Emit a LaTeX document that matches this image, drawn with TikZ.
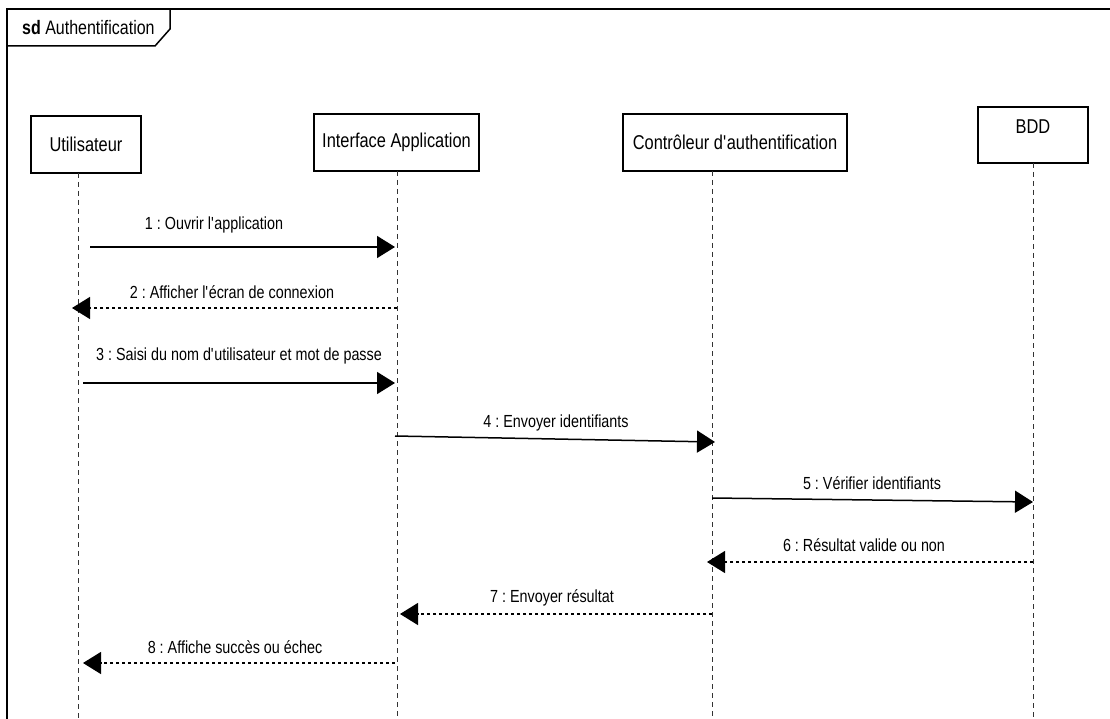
\documentclass[tikz,border=0pt]{standalone}
\usepackage{fontspec}
\setmainfont{Liberation Sans}[FakeStretch=0.82]
\usetikzlibrary{arrows.meta}

% straight apostrophe
\newcommand{\apos}{\textquotesingle}

\tikzset{
  frameline/.style={line width=2pt, black},
  actorbox/.style={draw, line width=1.4pt, fill=white, inner sep=0pt,
    font=\fontsize{20}{22}\selectfont},
  lifeline/.style={line width=1pt, black!80, dash pattern=on 5pt off 4pt},
  callmsg/.style={line width=1.5pt, -{Triangle[length=18pt,width=22pt]}},
  replymsg/.style={line width=1.3pt, dash pattern=on 3pt off 3pt,
    -{Triangle[length=18pt,width=22pt]}},
  msglabel/.style={inner sep=0pt, font=\fontsize{17.5}{20}\selectfont}
}

\begin{document}
\frenchspacing
\begin{tikzpicture}[x=1pt, y=-1pt]
  \useasboundingbox (0,0) rectangle (1110,719);
  \fill[white] (0,0) rectangle (1110,719);

  % frame and its name tab
  \draw[frameline] (7,719) -- (7,9) -- (1112,9);
  \draw[line width=1.5pt] (7,9) -- (170,9) -- (170,29) -- (155,46) -- (7,46);
  \node (title) [inner sep=0pt, anchor=west, font=\fontsize{19.5}{22}\selectfont]
    at (22,28) {\textbf{sd} Authentification};

  % participants
  \node (user)  [actorbox, minimum width=110pt, minimum height=57pt] at (86,144.5) {Utilisateur};
  \node (ui)    [actorbox, minimum width=165pt, minimum height=57pt] at (396.5,142.5) {Interface Application};
  \node (ctrl)  [actorbox, minimum width=224pt, minimum height=57pt] at (735,142.5) {Contrôleur d\apos authentification};
  \node (db)    [actorbox, minimum width=110pt, minimum height=56pt] at (1033,135) {};
  \node (dblabel) [inner sep=0pt, font=\fontsize{20}{22}\selectfont] at (1033,127) {BDD};

  % lifelines
  \coordinate (userTop) at (78,173);   \coordinate (userBot) at (78,719);
  \coordinate (uiTop)   at (397,171);  \coordinate (uiBot)   at (397,719);
  \coordinate (ctrlTop) at (712,171);  \coordinate (ctrlBot) at (712,719);
  \coordinate (dbTop)   at (1033,163); \coordinate (dbBot)   at (1033,719);
  \draw[lifeline] (userTop) -- (userBot);
  \draw[lifeline] (uiTop) -- (uiBot);
  \draw[lifeline] (ctrlTop) -- (ctrlBot);
  \draw[lifeline] (dbTop) -- (dbBot);

  % message end points
  \coordinate (m1a) at (90,247);  \coordinate (m1b) at (395,247);
  \coordinate (m2a) at (397,308); \coordinate (m2b) at (72,308);
  \coordinate (m3a) at (83,383);  \coordinate (m3b) at (395,383);
  \coordinate (m4a) at (395,436); \coordinate (m4b) at (715,442);
  \coordinate (m5a) at (712,498); \coordinate (m5b) at (1033,502);
  \coordinate (m6a) at (1033,562);\coordinate (m6b) at (707,562);
  \coordinate (m7a) at (712,614); \coordinate (m7b) at (400,614);
  \coordinate (m8a) at (395,663); \coordinate (m8b) at (83,663);

  % messages
  \draw[callmsg]  (m1a) -- (m1b);
  \draw[replymsg] (m2a) -- (m2b);
  \draw[callmsg]  (m3a) -- (m3b);
  \draw[callmsg]  (m4a) -- (m4b);
  \draw[callmsg]  (m5a) -- (m5b);
  \draw[replymsg] (m6a) -- (m6b);
  \draw[replymsg] (m7a) -- (m7b);
  \draw[replymsg] (m8a) -- (m8b);

  % message labels
  \node (l1) [msglabel] at (214,225) {1 : Ouvrir l\apos application};
  \node (l2) [msglabel] at (232,292) {2 : Afficher l\apos écran de connexion};
  \node (l3) [msglabel] at (239,356) {3 : Saisi du nom d\apos utilisateur et mot de passe};
  \node (l4) [msglabel] at (556,423) {4 : Envoyer identifiants};
  \node (l5) [msglabel] at (872,483) {5 : Vérifier identifiants};
  \node (l6) [msglabel] at (864,545) {6 : Résultat valide ou non};
  \node (l7) [msglabel] at (552,598) {7 : Envoyer résultat};
  \node (l8) [msglabel] at (235,647) {8 : Affiche succès ou échec};
\end{tikzpicture}
\end{document}
